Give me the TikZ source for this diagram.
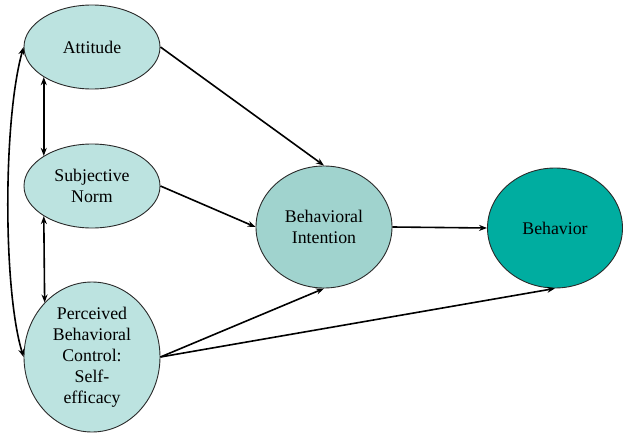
\documentclass[tikz,border=0pt]{standalone}
\usepackage{fontspec}
\setmainfont{Liberation Serif}
\newfontfamily\labelfont{Liberation Serif}
\usetikzlibrary{shapes.geometric,arrows.meta}
\definecolor{lightteal}{HTML}{BCE3E0}
\definecolor{midteal}{HTML}{A0D3CE}
\definecolor{darkteal}{HTML}{00ADA0}
\definecolor{edgegray}{HTML}{2A2A2A}
\tikzset{
  construct/.style={ellipse, draw=edgegray, line width=0.9pt, inner sep=0pt,
    align=center, text=black, font=\labelfont\fontsize{17.8}{21}\selectfont},
  link/.style={line width=1.6pt, -{Stealth[length=8pt,width=6pt]}},
  twoway/.style={line width=1.6pt, {Stealth[length=8pt,width=6pt]}-{Stealth[length=8pt,width=6pt]}}
}
\begin{document}
\begin{tikzpicture}[x=1pt,y=-1pt]
\useasboundingbox (0,0) rectangle (630,439);
\node[construct, fill=lightteal, minimum width=136pt, minimum height=84pt] (att) at (92,47) {Attitude};
\node[construct, fill=lightteal, minimum width=136pt, minimum height=84pt] (sn) at (92,186) {Subjective\\Norm};
\node[construct, fill=lightteal, minimum width=136pt, minimum height=150pt] (pbc) at (92,357) {Perceived\\Behavioral\\Control:\\Self-\\efficacy};
\node[construct, fill=midteal, minimum width=136pt, minimum height=122pt] (bi) at (324,227) {Behavioral\\Intention};
\node[construct, fill=darkteal, minimum width=135pt, minimum height=120pt] (beh) at (555,228) {Behavior};
\draw[link] (att.east) -- (bi.north);
\draw[link] (sn.east) -- (bi.west);
\draw[link] (pbc.east) -- (bi.south);
\draw[link] (pbc.east) -- (beh.south);
\draw[link] (bi.east) -- (beh.west);
\draw[twoway] (att.212) -- (sn.148);
\draw[twoway] (sn.212) -- (pbc.131);
\draw[twoway] (att.west) .. controls (3,120) and (3,290) .. (pbc.west);
\end{tikzpicture}
\end{document}
